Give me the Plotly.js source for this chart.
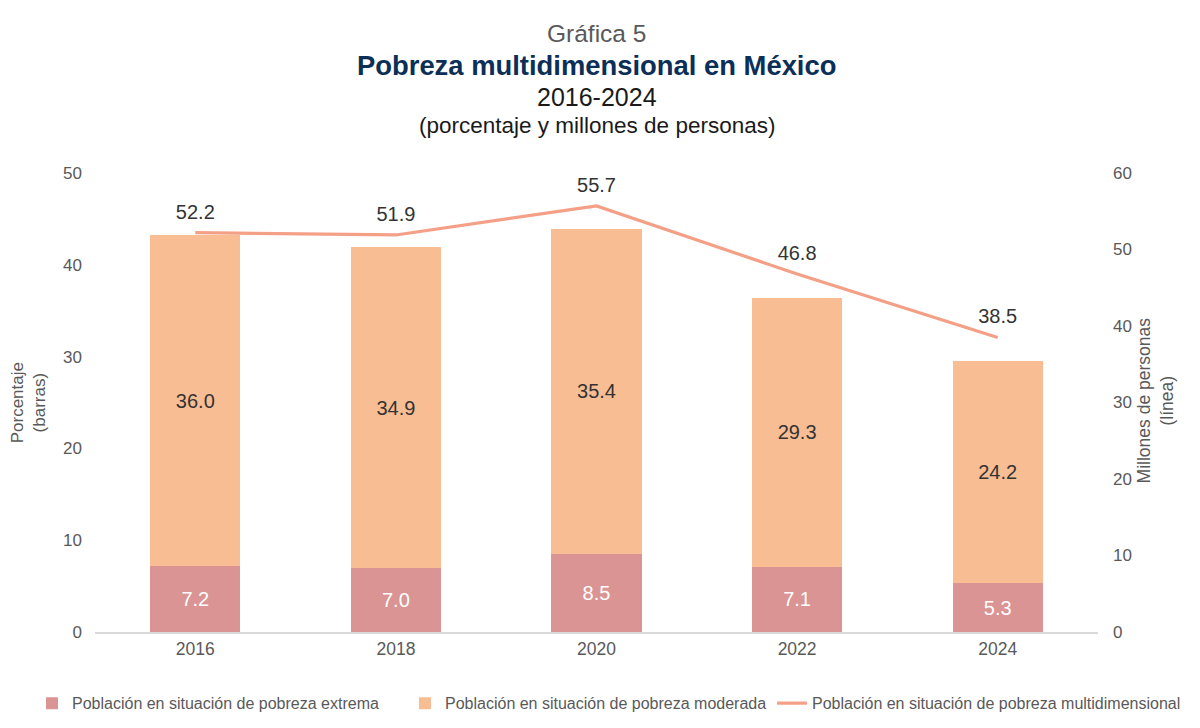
<!DOCTYPE html>
<html>
<head>
<meta charset="utf-8">
<script src="https://cdn.plot.ly/plotly-3.0.1.min.js"></script>
<style>html,body{margin:0;padding:0;background:#fff}#chart{width:1200px;height:728px}</style>
</head>
<body>
<div id="chart"></div>
<script>
const years = ['2016', '2018', '2020', '2022', '2024'];
const extrema = [7.2, 7.0, 8.5, 7.1, 5.3];
const moderada = [36.0, 34.9, 35.4, 29.3, 24.2];
const multidimensional = [52.2, 51.9, 55.7, 46.8, 38.5];

const names = [
  'Población en situación de pobreza extrema',
  'Población en situación de pobreza moderada',
  'Población en situación de pobreza multidimensional'
];

const fontFam = '"Liberation Sans", Arial, sans-serif';
const fmt = v => v.toFixed(1);

const traces = [
  {
    type: 'bar', x: years, y: extrema, name: names[0], legend: 'legend',
    marker: {color: '#D99493'},
    text: extrema.map(fmt), textposition: 'inside', insidetextanchor: 'middle',
    textfont: {color: '#ffffff', size: 20, family: fontFam},
    hoverinfo: 'none'
  },
  {
    type: 'bar', x: years, y: moderada, name: names[1], legend: 'legend2',
    marker: {color: '#F9BD94'},
    text: moderada.map(fmt), textposition: 'inside', insidetextanchor: 'middle',
    textfont: {color: '#333333', size: 20, family: fontFam},
    hoverinfo: 'none'
  },
  {
    type: 'scatter', mode: 'lines+markers+text', x: years, y: multidimensional, name: names[2],
    legend: 'legend3',
    yaxis: 'y2',
    line: {color: '#F4A087', width: 3.2},
    marker: {size: 13, color: 'rgba(0,0,0,0)'},
    text: multidimensional.map(fmt), textposition: 'top center',
    textfont: {color: '#333333', size: 20, family: fontFam},
    cliponaxis: false,
    hoverinfo: 'none'
  }
];

const legendBase = {
  orientation: 'h', xref: 'container', yref: 'container',
  y: 0.034, xanchor: 'left', yanchor: 'middle',
  font: {size: 16, color: '#595959', family: fontFam},
  itemwidth: 30, bgcolor: 'rgba(0,0,0,0)'
};

const layout = {
  width: 1200, height: 728,
  margin: {l: 95, r: 102, t: 173, b: 96},
  paper_bgcolor: '#ffffff', plot_bgcolor: '#ffffff',
  font: {family: fontFam, color: '#595959', size: 17},
  barmode: 'stack',
  bargap: 0.55,
  showlegend: true,
  legend: Object.assign({}, legendBase, {x: 32 / 1200}),
  legend2: Object.assign({}, legendBase, {x: 405 / 1200}),
  legend3: Object.assign({}, legendBase, {x: 772 / 1200}),
  xaxis: {
    type: 'category',
    showline: true, linecolor: '#D9D9D9', linewidth: 1.5,
    showgrid: false, zeroline: false, ticks: '',
    tickfont: {size: 17.5, color: '#595959'}
  },
  yaxis: {
    range: [0, 50], dtick: 10, showgrid: false, zeroline: false,
    showline: false, ticks: '', ticklabelstandoff: 12,
    tickfont: {size: 17, color: '#595959'}
  },
  yaxis2: {
    range: [0, 60], dtick: 10, overlaying: 'y', side: 'right',
    showgrid: false, zeroline: false, showline: false, ticks: '',
    ticklabelstandoff: 14,
    tickfont: {size: 17, color: '#595959'}
  },
  annotations: [
    {text: 'Gráfica 5', xref: 'paper', yref: 'paper', x: 0.5, y: 1.305, showarrow: false,
     font: {size: 24.5, color: '#595959'}, xanchor: 'center', yanchor: 'middle'},
    {text: '<b>Pobreza multidimensional en México</b>', xref: 'paper', yref: 'paper', x: 0.5, y: 1.234, showarrow: false,
     font: {size: 27.4, color: '#0B2F57'}, xanchor: 'center', yanchor: 'middle'},
    {text: '2016-2024', xref: 'paper', yref: 'paper', x: 0.5, y: 1.166, showarrow: false,
     font: {size: 25, color: '#1a1a1a'}, xanchor: 'center', yanchor: 'middle'},
    {text: '(porcentaje y millones de personas)', xref: 'paper', yref: 'paper', x: 0.5, y: 1.104, showarrow: false,
     font: {size: 22.5, color: '#1a1a1a'}, xanchor: 'center', yanchor: 'middle'},
    {text: 'Porcentaje<br>(barras)', xref: 'paper', yref: 'paper', x: -0.066, y: 0.5, showarrow: false,
     textangle: -90, font: {size: 17, color: '#595959'}, xanchor: 'center', yanchor: 'middle'},
    {text: 'Millones de personas<br>(línea)', xref: 'paper', yref: 'paper', x: 1.057, y: 0.505, showarrow: false,
     textangle: -90, font: {size: 17.5, color: '#595959'}, xanchor: 'center', yanchor: 'middle'}
  ]
};

Plotly.newPlot('chart', traces, layout, {displayModeBar: false, staticPlot: true});
</script>
</body>
</html>
